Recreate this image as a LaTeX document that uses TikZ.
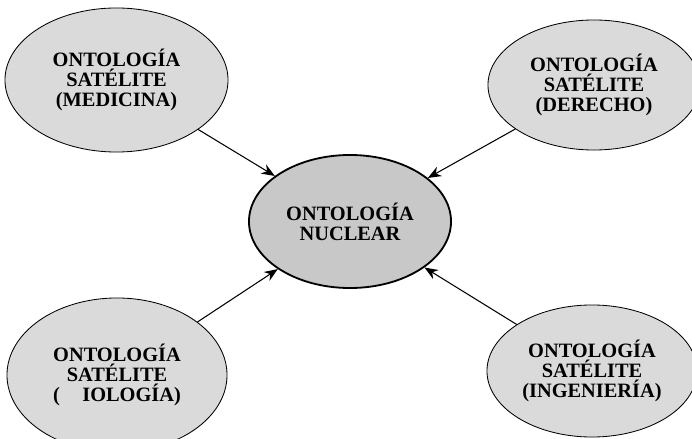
\documentclass[tikz,border=0pt]{standalone}
\usepackage{fontspec}
\setmainfont{Liberation Serif}
\usetikzlibrary{shapes.geometric,arrows.meta}
\definecolor{satfill}{RGB}{218,218,218}
\definecolor{corefill}{RGB}{200,200,200}
\tikzset{
  sat/.style={ellipse, draw=black, line width=0.6pt, fill=satfill, inner sep=0pt,
    align=center, font=\fontsize{14.5}{14.2}\selectfont\bfseries},
  core/.style={ellipse, draw=black, line width=1.3pt, fill=corefill, inner sep=0pt,
    align=center, font=\fontsize{14.5}{14.2}\selectfont\bfseries},
  link/.style={draw=black, line width=0.75pt, -{Stealth[length=9.5pt,width=7.5pt]}}
}
\begin{document}
\begin{tikzpicture}[x=0.025cm, y=-0.025cm]
\useasboundingbox (0,0) rectangle (692,439);
\clip (0,0) rectangle (692,439);
\node[sat, minimum width=5.575cm, minimum height=3.6cm] (med) at (116.5,80) {ONTOLOGÍA\\SATÉLITE\\(MEDICINA)};
\node[sat, minimum width=5.3cm, minimum height=3.25cm] (der) at (594,85) {ONTOLOGÍA\\SATÉLITE\\(DERECHO)};
\node[core, minimum width=5.05cm, minimum height=3.325cm] (nuc) at (350,221.5) {ONTOLOGÍA\\NUCLEAR};
\node[sat, minimum width=5.5cm, minimum height=3.85cm] (bio) at (117,375) {ONTOLOGÍA\\SATÉLITE\\(\hspace*{1.1em}IOLOGÍA)};
\node[sat, minimum width=5.25cm, minimum height=3.3cm] (ing) at (592,371) {ONTOLOGÍA\\SATÉLITE\\(INGENIERÍA)};
\draw[link] (med) -- (nuc);
\draw[link] (der) -- (nuc);
\draw[link] (bio) -- (nuc);
\draw[link] (ing) -- (nuc);
\end{tikzpicture}
\end{document}
